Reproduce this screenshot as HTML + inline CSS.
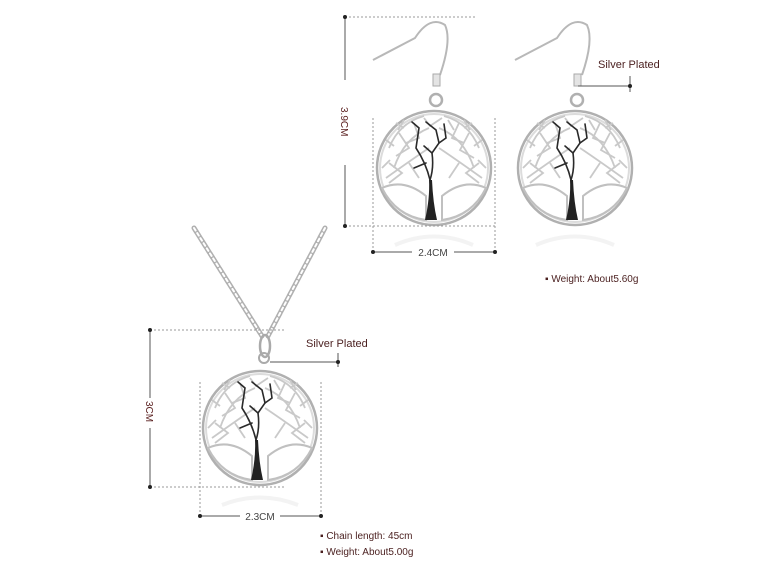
<!DOCTYPE html>
<html><head><meta charset="utf-8"><style>
html,body{margin:0;padding:0;background:#fff;}
svg{display:block;}
text{font-family:"Liberation Sans",sans-serif;}
</style></head><body>
<svg width="760" height="570" viewBox="0 0 760 570" xmlns="http://www.w3.org/2000/svg">
<defs>
<g id="tree">
  <circle cx="0" cy="0" r="57" fill="none" stroke="#b0b0b0" stroke-width="2.5"/>
  <circle cx="0" cy="0" r="54" fill="none" stroke="#dcdcdc" stroke-width="2"/>
  <g fill="none" stroke="#c9c9c9" stroke-width="1.8">
    <path d="M-45,-20 Q-35,-45 -10,-52 M-40,0 Q-30,-30 -5,-40 M-48,10 Q-20,-10 -5,-20 M45,-20 Q35,-45 10,-52 M40,0 Q30,-30 5,-40 M48,10 Q20,-10 5,-20"/>
    <path d="M-35,-35 L-25,-20 L-38,-12 M-20,-45 L-15,-30 L-28,-25 M25,-45 L18,-30 L30,-25 M35,-35 L26,-18 L40,-10 M-45,-5 L-32,5 L-45,15 M45,-5 L32,5 L45,15 M-25,-5 L-15,10 M25,-5 L15,10"/>
    <path d="M-30,-48 L-36,-38 M-48,-28 L-40,-22 M48,-28 L40,-22 M30,-48 L36,-38 M-52,0 L-44,-8 M52,0 L44,-8 M-38,-45 L-30,-40 M38,-45 L30,-40"/>
    <path d="M-10,-50 L-4,-42 L8,-50 M14,-48 L20,-38"/>
  </g>
  <path d="M-52,20 Q-30,10 -8,28 L-8,52 Q-38,48 -52,20 Z" fill="#fff" stroke="#c0c0c0" stroke-width="2"/>
  <path d="M52,20 Q30,10 8,28 L8,52 Q38,48 52,20 Z" fill="#fff" stroke="#c0c0c0" stroke-width="2"/>
  <g fill="none" stroke="#2a2a2a" stroke-width="1.6" stroke-linecap="round">
    <path d="M-4,12 Q-8,-5 -18,-20 L-15,-40 L-22,-46"/>
    <path d="M-4,12 Q0,0 -2,-15 L5,-25 L2,-38 L-8,-46"/>
    <path d="M5,-25 L12,-30 L10,-44"/>
    <path d="M-2,-15 L-10,-22 M-8,-5 L-20,0"/>
  </g>
  <path d="M-9,52 Q-4,30 -5,12 L-2,12 Q-1,35 3,52 Z" fill="#222"/>
</g>
</defs>

<g fill="none" stroke="#b8b8b8" stroke-width="2">
  <path d="M373,60 L415,38 Q430,15 445,25 Q452,40 440,75"/>
  <path d="M515,60 L557,38 Q572,15 587,25 Q594,40 582,75"/>
</g>
<rect x="433" y="74" width="7" height="12" fill="#e4e4e4" stroke="#aaa"/>
<rect x="574" y="74" width="7" height="12" fill="#e4e4e4" stroke="#aaa"/>
<circle cx="436" cy="100" r="6" fill="none" stroke="#b0b0b0" stroke-width="2.5"/>
<circle cx="577" cy="100" r="6" fill="none" stroke="#b0b0b0" stroke-width="2.5"/>
<use href="#tree" transform="translate(434,168)"/>
<use href="#tree" transform="translate(575,168)"/>
<path d="M395,245 Q434,228 473,245" fill="none" stroke="#f3f3f3" stroke-width="4"/>
<path d="M536,245 Q575,228 614,245" fill="none" stroke="#f3f3f3" stroke-width="4"/>

<g stroke="#999" stroke-width="1" stroke-dasharray="2 2" fill="none">
  <line x1="345" y1="17" x2="475" y2="17"/>
  <line x1="345" y1="226" x2="495" y2="226"/>
  <line x1="373" y1="118" x2="373" y2="252"/>
  <line x1="495" y1="118" x2="495" y2="252"/>
</g>
<g stroke="#555" stroke-width="1" fill="none">
  <line x1="345" y1="17" x2="345" y2="80"/>
  <line x1="345" y1="165" x2="345" y2="226"/>
  <line x1="373" y1="252" x2="412" y2="252"/>
  <line x1="454" y1="252" x2="495" y2="252"/>
  <line x1="578" y1="86" x2="630" y2="86"/>
  <line x1="630" y1="76" x2="630" y2="92"/>
</g>
<g fill="#222">
  <circle cx="345" cy="17" r="2"/><circle cx="345" cy="226" r="2"/>
  <circle cx="373" cy="252" r="2"/><circle cx="495" cy="252" r="2"/>
  <circle cx="630" cy="86" r="2"/>
</g>
<text x="0" y="0" font-size="10" fill="#5a1f1f" transform="translate(341,107) rotate(90)">3.9CM</text>
<text x="433" y="256" font-size="10" fill="#444" text-anchor="middle">2.4CM</text>
<text x="598" y="68" font-size="11" fill="#4a1f1f">Silver Plated</text>
<text x="545" y="282" font-size="10" fill="#4a1f1f">▪ Weight:  About5.60g</text>

<g fill="none" stroke-linecap="round">
  <line x1="194" y1="228" x2="262" y2="336" stroke="#b0b0b0" stroke-width="5" stroke-dasharray="5 1"/>
  <line x1="194" y1="228" x2="262" y2="336" stroke="#fff" stroke-width="2" stroke-dasharray="3 3"/>
  <line x1="325" y1="228" x2="268" y2="336" stroke="#b0b0b0" stroke-width="5" stroke-dasharray="5 1"/>
  <line x1="325" y1="228" x2="268" y2="336" stroke="#fff" stroke-width="2" stroke-dasharray="3 3"/>
</g>
<ellipse cx="265" cy="346" rx="5" ry="11" fill="none" stroke="#aaa" stroke-width="2.5"/>
<circle cx="264" cy="358" r="5" fill="none" stroke="#aaa" stroke-width="2"/>
<use href="#tree" transform="translate(260,428)"/>
<path d="M222,505 Q260,490 298,505" fill="none" stroke="#f3f3f3" stroke-width="4"/>

<g stroke="#999" stroke-width="1" stroke-dasharray="2 2" fill="none">
  <line x1="150" y1="330" x2="285" y2="330"/>
  <line x1="150" y1="487" x2="285" y2="487"/>
  <line x1="200" y1="382" x2="200" y2="516"/>
  <line x1="321" y1="382" x2="321" y2="516"/>
</g>
<g stroke="#555" stroke-width="1" fill="none">
  <line x1="150" y1="330" x2="150" y2="398"/>
  <line x1="150" y1="428" x2="150" y2="487"/>
  <line x1="200" y1="516" x2="240" y2="516"/>
  <line x1="280" y1="516" x2="321" y2="516"/>
  <line x1="270" y1="362" x2="338" y2="362"/>
  <line x1="338" y1="353" x2="338" y2="367"/>
</g>
<g fill="#222">
  <circle cx="150" cy="330" r="2"/><circle cx="150" cy="487" r="2"/>
  <circle cx="200" cy="516" r="2"/><circle cx="321" cy="516" r="2"/>
  <circle cx="338" cy="362" r="2"/>
</g>
<text x="0" y="0" font-size="10" fill="#5a1f1f" transform="translate(146,401) rotate(90)">3CM</text>
<text x="260" y="520" font-size="10" fill="#444" text-anchor="middle">2.3CM</text>
<text x="306" y="347" font-size="11" fill="#4a1f1f">Silver Plated</text>
<text x="320" y="539" font-size="10" fill="#4a1f1f">▪ Chain length: 45cm</text>
<text x="320" y="555" font-size="10" fill="#4a1f1f">▪ Weight:  About5.00g</text>
</svg>
</body></html>
